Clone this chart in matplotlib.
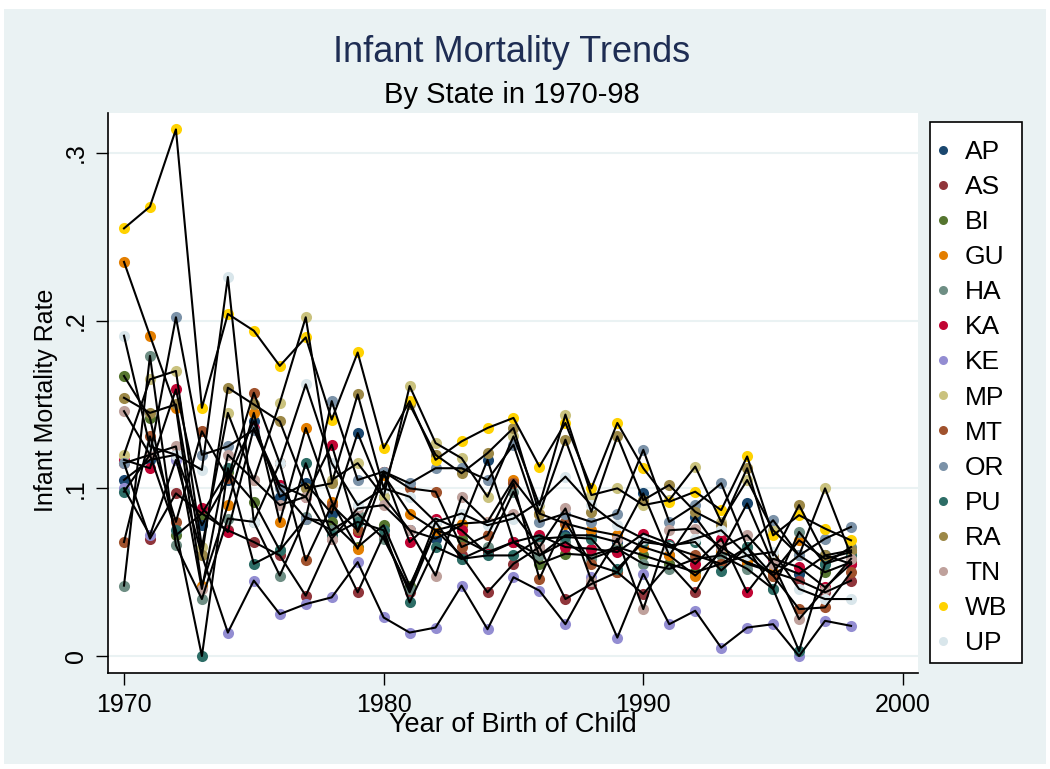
import numpy as np
import matplotlib.pyplot as plt
from matplotlib.lines import Line2D

plt.rcParams['font.family'] = ['Liberation Sans', 'DejaVu Sans']

years = list(range(1970, 1999))
states = ["AP", "AS", "BI", "GU", "HA", "KA", "KE", "MP", "MT", "OR", "PU", "RA", "TN", "WB", "UP"]
colors = ["#1A476F", "#90353B", "#55752F", "#E37E00", "#6E8E84", "#C10534", "#938DD2", "#CAC27E",
          "#A0522D", "#7B92A8", "#2D6D66", "#9C8847", "#BFA19C", "#FFD200", "#D9E6EB"]

# infant mortality rate per state, 1970..1998
ap = [0.105, 0.117, 0.120, 0.078, 0.105, 0.140, 0.095, 0.103, 0.085, 0.133, 0.095, 0.075, 0.070, 0.078, 0.117,
      0.068, 0.060, 0.072, 0.072, 0.068, 0.097, 0.060, 0.083, 0.062, 0.091, 0.055, 0.049, 0.060, 0.055]
as_ = [0.115, 0.070, 0.097, 0.085, 0.075, 0.068, 0.060, 0.036, 0.070, 0.038, 0.072, 0.038, 0.075, 0.060, 0.038,
       0.055, 0.065, 0.034, 0.043, 0.050, 0.037, 0.055, 0.038, 0.065, 0.055, 0.050, 0.045, 0.038, 0.045]
bi = [0.167, 0.142, 0.072, 0.085, 0.110, 0.092, 0.063, 0.082, 0.080, 0.065, 0.078, 0.042, 0.075, 0.070, 0.062,
      0.068, 0.055, 0.061, 0.060, 0.065, 0.060, 0.055, 0.050, 0.055, 0.060, 0.048, 0.060, 0.050, 0.056]
gu = [0.235, 0.191, 0.148, 0.042, 0.090, 0.145, 0.080, 0.136, 0.092, 0.064, 0.108, 0.085, 0.075, 0.079, 0.080,
      0.105, 0.085, 0.079, 0.075, 0.072, 0.065, 0.060, 0.048, 0.062, 0.056, 0.050, 0.069, 0.058, 0.062]
ha = [0.042, 0.179, 0.066, 0.034, 0.082, 0.080, 0.048, 0.083, 0.075, 0.085, 0.070, 0.040, 0.080, 0.058, 0.065,
      0.098, 0.060, 0.068, 0.058, 0.064, 0.055, 0.052, 0.058, 0.060, 0.052, 0.040, 0.074, 0.055, 0.065]
ka = [0.117, 0.112, 0.159, 0.088, 0.074, 0.136, 0.102, 0.095, 0.126, 0.074, 0.110, 0.068, 0.082, 0.075, 0.061,
      0.068, 0.072, 0.065, 0.064, 0.062, 0.073, 0.067, 0.055, 0.070, 0.038, 0.058, 0.053, 0.041, 0.055]
ke = [0.100, 0.072, 0.117, 0.060, 0.014, 0.045, 0.025, 0.031, 0.035, 0.056, 0.023, 0.014, 0.017, 0.042, 0.016,
      0.047, 0.039, 0.019, 0.047, 0.011, 0.049, 0.019, 0.027, 0.005, 0.017, 0.019, 0.000, 0.021, 0.018]
mp = [0.120, 0.165, 0.170, 0.065, 0.145, 0.105, 0.151, 0.202, 0.105, 0.115, 0.095, 0.161, 0.127, 0.118, 0.095,
      0.131, 0.090, 0.144, 0.096, 0.100, 0.090, 0.093, 0.113, 0.080, 0.105, 0.075, 0.060, 0.100, 0.060]
mt = [0.068, 0.131, 0.080, 0.134, 0.106, 0.157, 0.115, 0.057, 0.090, 0.075, 0.110, 0.100, 0.098, 0.065, 0.072,
      0.103, 0.046, 0.080, 0.055, 0.050, 0.070, 0.065, 0.060, 0.055, 0.065, 0.048, 0.028, 0.029, 0.050]
or_ = [0.115, 0.120, 0.202, 0.120, 0.125, 0.135, 0.100, 0.082, 0.152, 0.105, 0.110, 0.103, 0.112, 0.112, 0.105,
       0.126, 0.080, 0.085, 0.080, 0.085, 0.123, 0.080, 0.090, 0.103, 0.065, 0.081, 0.060, 0.070, 0.077]
pu = [0.098, 0.120, 0.075, 0.000, 0.112, 0.055, 0.063, 0.115, 0.072, 0.080, 0.075, 0.032, 0.065, 0.058, 0.060,
      0.060, 0.070, 0.071, 0.070, 0.052, 0.068, 0.066, 0.068, 0.051, 0.065, 0.040, 0.003, 0.055, 0.060]
ra = [0.154, 0.145, 0.150, 0.060, 0.160, 0.150, 0.140, 0.100, 0.103, 0.156, 0.100, 0.150, 0.120, 0.109, 0.121,
      0.136, 0.085, 0.129, 0.086, 0.131, 0.093, 0.102, 0.086, 0.078, 0.112, 0.060, 0.090, 0.060, 0.063]
tn = [0.146, 0.120, 0.125, 0.040, 0.120, 0.105, 0.090, 0.095, 0.070, 0.088, 0.090, 0.075, 0.048, 0.095, 0.080,
      0.085, 0.065, 0.088, 0.045, 0.070, 0.028, 0.075, 0.076, 0.065, 0.072, 0.055, 0.022, 0.040, 0.058]
wb = [0.255, 0.268, 0.314, 0.148, 0.204, 0.194, 0.173, 0.190, 0.141, 0.181, 0.124, 0.152, 0.117, 0.128, 0.136,
      0.142, 0.113, 0.139, 0.100, 0.139, 0.112, 0.092, 0.098, 0.087, 0.119, 0.072, 0.084, 0.076, 0.069]
up = [0.191, 0.125, 0.120, 0.111, 0.226, 0.080, 0.115, 0.162, 0.115, 0.090, 0.100, 0.095, 0.080, 0.085, 0.078,
      0.082, 0.092, 0.107, 0.090, 0.078, 0.070, 0.065, 0.070, 0.075, 0.060, 0.062, 0.040, 0.034, 0.034]

series = [ap, as_, bi, gu, ha, ka, ke, mp, mt, or_, pu, ra, tn, wb, up]

W, H = 1050, 769
bg = "#EAF2F3"
fig = plt.figure(figsize=(W / 100, H / 100), dpi=100)
fig.patch.set_facecolor("white")
fig.patches.append(plt.Rectangle((4 / W, 5 / H), 1042 / W, 755 / H, transform=fig.transFigure,
                                 facecolor=bg, edgecolor="none", zorder=-10))

# plot region: x 108..918 px, y 113..673 px
ax = fig.add_axes([108 / W, (H - 673) / H, 810 / W, 560 / H])
ax.set_facecolor("white")

for vals, c in zip(series, colors):
    ax.plot(years, vals, linestyle="none", marker="o", markersize=8, color=c,
            markeredgewidth=0, zorder=2)
for vals in series:
    ax.plot(years, vals, color="black", lw=1.5, zorder=3)

ax.set_xlim(1969.384, 2000.58)
ax.set_ylim(-0.0101, 0.3238)
ax.set_xticks([1970, 1980, 1990, 2000])
ax.set_yticks([0, 0.1, 0.2, 0.3])
ax.set_yticklabels(["0", ".1", ".2", ".3"], rotation=90, va="center")
ax.tick_params(labelsize=18, length=8.5, width=1, pad=6)
ax.grid(axis="y", color=bg, lw=1.5, zorder=0)
for s in ["top", "right"]:
    ax.spines[s].set_visible(False)
ax.spines["left"].set_linewidth(1.2)
ax.spines["bottom"].set_linewidth(1.2)

fig.text(46 / W, 1 - 400 / H, "Infant Mortality Rate", rotation=90, ha="center", va="center", fontsize=18)
fig.text(513 / W, 1 - 725 / H, "Year of Birth of Child", ha="center", va="center", fontsize=19.5)

fig.text(512 / W, 1 - 52 / H, "Infant Mortality Trends", ha="center", va="center",
         fontsize=26, color="#1E2D53")
fig.text(512 / W, 1 - 95 / H, "By State in 1970-98", ha="center", va="center", fontsize=21)

# legend: frame drawn as its own box, entries placed inside it
fig.patches.append(plt.Rectangle((930 / W, 1 - 663 / H), 92 / W, 541 / H, transform=fig.transFigure,
                                 facecolor="white", edgecolor="black", lw=1.2, zorder=5))
handles = [Line2D([], [], linestyle="none", marker="o", markersize=6.5, color=c, markeredgewidth=0)
           for c in colors]
leg = fig.legend(handles, states, loc="upper left", bbox_to_anchor=(935 / W, 1 - 140 / H),
                 fontsize=19, frameon=False, handlelength=0.6, handletextpad=0.54,
                 labelspacing=0.42, borderpad=0, borderaxespad=0)
leg.set_zorder(6)

fig.savefig("out.png", dpi=100)
